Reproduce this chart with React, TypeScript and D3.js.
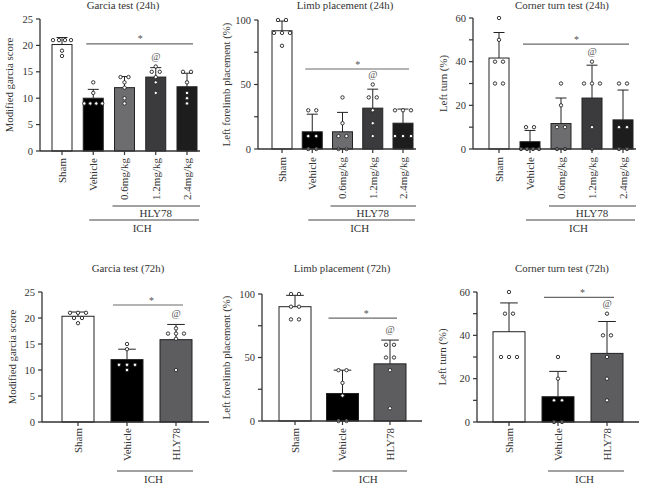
import React from 'react';
import * as d3 from 'd3';

// ---------- data ----------
const groups24 = ['Sham', 'Vehicle', '0.6mg/kg', '1.2mg/kg', '2.4mg/kg'];
const groups72 = ['Sham', 'Vehicle', 'HLY78'];

const garcia24 = [[21, 21, 21, 21, 19, 18], [13, 11, 9, 9, 9, 9], [14, 14, 13, 12, 10, 9], [16, 15, 15, 14, 13, 11], [15, 15, 13, 11, 10, 9]];
const limb24 = [[100, 100, 90, 90, 90, 80], [30, 30, 10, 10, 0, 0], [40, 20, 10, 10, 0, 0], [50, 40, 40, 30, 20, 10], [30, 30, 30, 10, 10, 10]];
const corner24 = [[60, 50, 40, 40, 30, 30], [10, 10, 0, 0, 0, 0], [30, 20, 10, 10, 0, 0], [40, 30, 30, 30, 10, 0], [30, 30, 10, 10, 0, 0]];
const garcia72 = [[21, 21, 21, 20, 20, 19], [15, 14, 11, 11, 11, 10], [18, 17, 17, 17, 16, 10]];
const limb72 = [[100, 100, 90, 90, 80, 80], [40, 40, 30, 20, 0, 0], [60, 60, 50, 50, 40, 10]];
const corner72 = [[60, 50, 50, 30, 30, 30], [30, 20, 10, 10, 0, 0], [50, 40, 40, 30, 20, 10]];

const titles = ['Garcia test (24h)', 'Limb placement (24h)', 'Corner turn test (24h)', 'Garcia test (72h)', 'Limb placement (72h)', 'Corner turn test (72h)'];
const yTitles = ['Modified garcia score', 'Left forelimb placement (%)', 'Left turn (%)', 'Modified garcia score', 'Left forelimb placement (%)', 'Left turn (%)'];
const yMaxes = [25, 100, 60, 25, 100, 60];
const majorTicks = [[0, 5, 10, 15, 20, 25], [0, 50, 100], [0, 20, 40, 60], [0, 5, 10, 15, 20, 25], [0, 50, 100], [0, 20, 40, 60]];
const minorTicks = [[], [25, 75], [10, 30, 50], [], [25, 75], [10, 30, 50]];
const sigLevels = [20.3, 62, 48, 22.5, 81, 57.5];
const sigMark = '*';
const atMark = '@';
const atGroups = ['1.2mg/kg', '1.2mg/kg', '1.2mg/kg', 'HLY78', 'HLY78', 'HLY78'];
const bracketHLY = 'HLY78';
const bracketICH = 'ICH';

const colors24 = ['#ffffff', '#000000', '#6d6d6f', '#3b3b3d', '#1d1d1d'];
const colors72 = ['#ffffff', '#000000', '#5d5d5f'];

// ---------- layout (not data) ----------
const layouts = [
  { ax: 40, xEnd: 200, yTop: 19, yBot: 151, c0: 62, c1: 187, bw: 20, tx: 123, ty: 9, lx: 9, xl: 158, hly: 206, ich: 220 },
  { ax: 258, xEnd: 416, yTop: 20, yBot: 149, c0: 282, c1: 403, bw: 20, tx: 345, ty: 9, lx: 226, xl: 157, hly: 206, ich: 220 },
  { ax: 473, xEnd: 636, yTop: 18, yBot: 149, c0: 499, c1: 623, bw: 20, tx: 562, ty: 9, lx: 443, xl: 157, hly: 206, ich: 220 },
  { ax: 42, xEnd: 209, yTop: 292, yBot: 422, c0: 78, c1: 176, bw: 32, tx: 128, ty: 272, lx: 12, xl: 428, hly: 0, ich: 471 },
  { ax: 262, xEnd: 422, yTop: 294, yBot: 421, c0: 295, c1: 390, bw: 32, tx: 342, ty: 272, lx: 226, xl: 428, hly: 0, ich: 471 },
  { ax: 477, xEnd: 639, yTop: 292, yBot: 422, c0: 509, c1: 607, bw: 32, tx: 562, ty: 272, lx: 442, xl: 428, hly: 0, ich: 471 },
];

const FONT = '"Liberation Serif", "DejaVu Serif", serif';
const AXIS = '#333';

function Panel({ idx, data, groups, colors }: any) {
  const L = layouts[idx];
  const y = d3.scaleLinear().domain([0, yMaxes[idx]]).range([L.yBot, L.yTop]);
  const x = d3.scalePoint<string>().domain(groups).range([L.c0, L.c1]);
  const stats = data.map((v: number[]) => ({ mean: d3.mean(v) as number, sd: d3.deviation(v) as number }));
  const is24 = groups.length === 5;
  const first = groups[1];
  const last = groups[groups.length - 1];
  const atIdx = groups.indexOf(atGroups[idx]);
  const atTop = Math.max(stats[atIdx].mean + stats[atIdx].sd, d3.max(data[atIdx] as number[]) as number);
  const capW = L.bw * 0.55;

  return (
    <g>
      <text x={L.tx} y={L.ty} textAnchor="middle" fontSize={10.8} fill="#333">{titles[idx]}</text>
      <text transform={`translate(${L.lx},${(L.yTop + L.yBot) / 2}) rotate(-90)`} textAnchor="middle" dy="0.35em" fontSize={10.8} fill="#333">{yTitles[idx]}</text>

      {/* bars */}
      {groups.map((g: string, i: number) => (
        <rect key={g} x={(x(g) as number) - L.bw / 2} y={y(stats[i].mean)} width={L.bw} height={y(0) - y(stats[i].mean)}
          fill={colors[i]} stroke="#222" strokeWidth={1} />
      ))}
      {/* error bars */}
      {groups.map((g: string, i: number) => {
        const cx = x(g) as number;
        const top = y(stats[i].mean + stats[i].sd);
        return (
          <g key={'e' + g} stroke="#222" strokeWidth={1}>
            <line x1={cx} x2={cx} y1={y(stats[i].mean)} y2={top} />
            <line x1={cx - capW / 2} x2={cx + capW / 2} y1={top} y2={top} />
          </g>
        );
      })}
      {/* dots */}
      {groups.map((g: string, i: number) => {
        const cx = x(g) as number;
        const byVal = d3.groups(data[i] as number[], (v: number) => v);
        return byVal.flatMap(([val, arr]: any) => {
          const n = arr.length;
          const sp = n > 1 ? Math.min(8, (L.bw - 2) / (n - 1)) : 0;
          return arr.map((_: number, k: number) => (
            <circle key={`d${g}${val}${k}`} cx={cx + (k - (n - 1) / 2) * sp} cy={y(val)} r={1.7}
              fill="#fff" stroke="#222" strokeWidth={0.9} />
          ));
        });
      })}

      {/* axes */}
      <line x1={L.ax} x2={L.ax} y1={y(0)} y2={y(yMaxes[idx])} stroke={AXIS} strokeWidth={1.3} />
      <line x1={L.ax} x2={L.xEnd} y1={y(0)} y2={y(0)} stroke={AXIS} strokeWidth={1.3} />
      {majorTicks[idx].map((t: number) => (
        <g key={'t' + t}>
          <line x1={L.ax - 4} x2={L.ax} y1={y(t)} y2={y(t)} stroke={AXIS} strokeWidth={1.2} />
          <text x={L.ax - 7} y={y(t)} dy="0.35em" textAnchor="end" fontSize={10.5} fill="#333">{t}</text>
        </g>
      ))}
      {minorTicks[idx].map((t: number) => (
        <line key={'m' + t} x1={L.ax - 4} x2={L.ax} y1={y(t)} y2={y(t)} stroke={AXIS} strokeWidth={1.2} />
      ))}
      {groups.map((g: string) => (
        <g key={'xt' + g}>
          <line x1={x(g)} x2={x(g)} y1={y(0)} y2={y(0) + 4} stroke={AXIS} strokeWidth={1.2} />
          <text transform={`translate(${x(g)},${L.xl}) rotate(-90)`} textAnchor="end" dy="0.35em" fontSize={11} fill="#333">{g}</text>
        </g>
      ))}

      {/* significance */}
      <line x1={(x(first) as number) - (is24 ? 7 : 14)} x2={(x(last) as number) + (is24 ? 6 : 7)} y1={y(sigLevels[idx])} y2={y(sigLevels[idx])} stroke="#6a6a6a" strokeWidth={1.2} />
      <text x={((x(first) as number) + (x(last) as number)) / 2} y={y(sigLevels[idx]) - 1.5} textAnchor="middle" fontSize={10} fill="#555">{sigMark}</text>
      <text x={x(atGroups[idx])} y={y(atTop) - 7} textAnchor="middle" fontSize={10} fill="#555">{atMark}</text>

      {/* brackets */}
      {is24 && (
        <g>
          <line x1={(x(groups[2]) as number) - 12} x2={(x(last) as number) + 13} y1={L.hly} y2={L.hly} stroke="#444" strokeWidth={1.2} />
          <text x={((x(groups[2]) as number) + (x(last) as number)) / 2} y={L.hly + 11} textAnchor="middle" fontSize={11} fill="#333">{bracketHLY}</text>
        </g>
      )}
      <line x1={(x(first) as number) - (is24 ? 4 : 10)} x2={(x(last) as number) + (is24 ? 12 : 17)} y1={L.ich} y2={L.ich} stroke="#444" strokeWidth={1.2} />
      <text x={((x(first) as number) + (x(last) as number)) / 2 + 2} y={L.ich + 11.5} textAnchor="middle" fontSize={11} fill="#333">{bracketICH}</text>
    </g>
  );
}

export default function App() {
  return (
    <svg width={645} height={483} style={{ position: 'absolute', left: 0, top: 0, background: '#fff' }} fontFamily={FONT}>
      <rect width={645} height={483} fill="#fff" />
      <Panel idx={0} data={garcia24} groups={groups24} colors={colors24} />
      <Panel idx={1} data={limb24} groups={groups24} colors={colors24} />
      <Panel idx={2} data={corner24} groups={groups24} colors={colors24} />
      <Panel idx={3} data={garcia72} groups={groups72} colors={colors72} />
      <Panel idx={4} data={limb72} groups={groups72} colors={colors72} />
      <Panel idx={5} data={corner72} groups={groups72} colors={colors72} />
    </svg>
  );
}
